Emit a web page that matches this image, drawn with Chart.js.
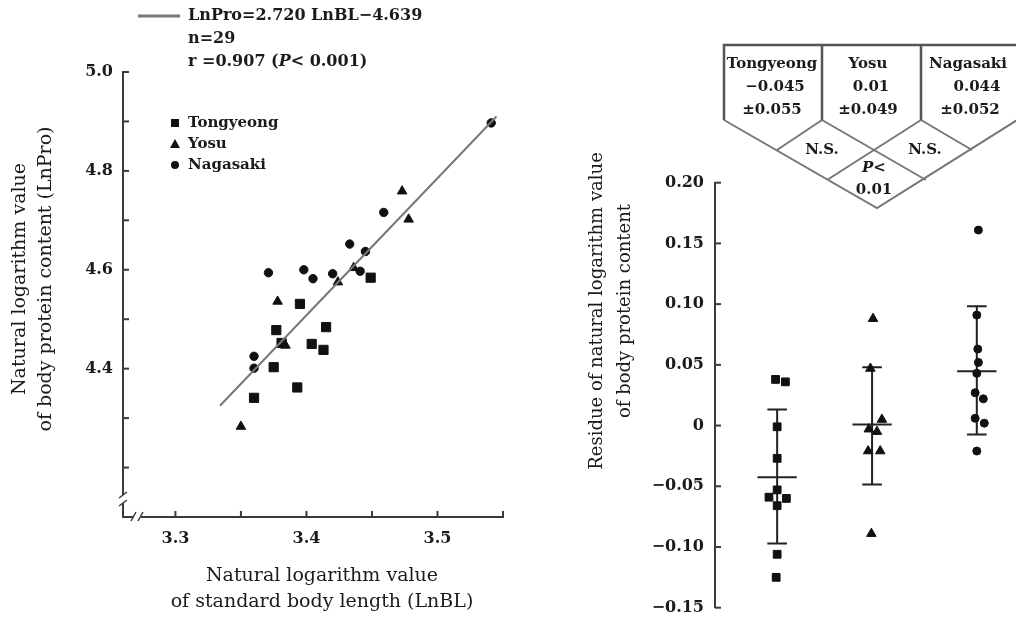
<!DOCTYPE html>
<html>
<head>
<meta charset="utf-8">
<script src="https://cdn.jsdelivr.net/npm/chart.js@4.4.1/dist/chart.umd.min.js"></script>
<style>
  html, body { margin: 0; padding: 0; background: #fff; }
  #wrap { position: relative; width: 1016px; height: 622px; overflow: hidden; background: #fff; }
  #left-chart { position: absolute; left: 0; top: 0; }
  #right-chart { position: absolute; left: 560px; top: 0; }
</style>
</head>
<body>
<div id="wrap">
  <canvas id="left-chart" width="560" height="622"></canvas>
  <canvas id="right-chart" width="456" height="640"></canvas>
</div>
<script>
// ---- left panel: LnPro vs LnBL ----
const tongyeongBL  = [3.449, 3.395, 3.377, 3.415, 3.381, 3.404, 3.413, 3.375, 3.393, 3.360];
const tongyeongPro = [4.584, 4.531, 4.478, 4.484, 4.452, 4.450, 4.438, 4.403, 4.362, 4.341];
const yosuBL  = [3.473, 3.478, 3.436, 3.424, 3.378, 3.384, 3.350];
const yosuPro = [4.759, 4.702, 4.604, 4.575, 4.536, 4.447, 4.283];
const nagasakiBL  = [3.541, 3.459, 3.433, 3.445, 3.371, 3.398, 3.405, 3.420, 3.441, 3.360, 3.360];
const nagasakiPro = [4.897, 4.716, 4.652, 4.637, 4.594, 4.600, 4.582, 4.592, 4.597, 4.425, 4.401];
const fitBL  = [3.334, 3.545];
const fitPro = [4.325, 4.910];

const xTicks = [3.3, 3.35, 3.4, 3.45, 3.5, 3.55];
const xTickLabels = ['3.3', '', '3.4', '', '3.5', ''];
const yTicks = [4.2, 4.3, 4.4, 4.5, 4.6, 4.7, 4.8, 4.9, 5.0];
const yTickLabels = ['', '', '4.4', '', '4.6', '', '4.8', '', '5.0'];

// ---- right panel: residues by locality ----
const tongyeongPos = [0.617, 0.717, 0.633, 0.633, 0.633, 0.55, 0.727, 0.633, 0.633, 0.623];
const tongyeongRes = [0.038, 0.036, -0.001, -0.027, -0.053, -0.059, -0.060, -0.066, -0.106, -0.125];
const yosuPos = [1.61, 1.583, 1.70, 1.567, 1.65, 1.56, 1.683, 1.593];
const yosuRes = [0.088, 0.047, 0.005, -0.003, -0.005, -0.021, -0.021, -0.089];
const nagasakiPos = [2.683, 2.667, 2.677, 2.683, 2.667, 2.65, 2.733, 2.65, 2.743, 2.667];
const nagasakiRes = [0.161, 0.091, 0.063, 0.052, 0.043, 0.027, 0.022, 0.006, 0.002, -0.021];

const groupPos   = [0.633, 1.60, 2.667];
const groupMean  = [-0.0426, 0.0008, 0.0447];
const groupUpper = [0.0132, 0.048, 0.0983];
const groupLower = [-0.0972, -0.0486, -0.0074];

const resTicks = [-0.15, -0.10, -0.05, 0, 0.05, 0.10, 0.15, 0.20];
const resTickLabels = ['\u22120.15', '\u22120.10', '\u22120.05', '0', '0.05', '0.10', '0.15', '0.20'];

const groupNames = ['Tongyeong', 'Yosu', 'Nagasaki'];
const groupMeanText = ['\u22120.045', '0.01', '0.044'];
const groupSdText = ['\u00b10.055', '\u00b10.049', '\u00b10.052'];

// ---- styles ----
const FONT = '"DejaVu Serif", "Liberation Serif", serif';
const INK = '#1b1b1b';
const AXIS = '#3a3a3a';
const MEAN_HALF = 0.2;
const CAP_HALF = 0.1;

Chart.defaults.font.family = FONT;
Chart.defaults.color = INK;

function pts(xs, ys) {
    return xs.map((x, i) => ({ x: x, y: ys[i] }));
}

function drawInnerTicks(chart, id, len) {
    const s = chart.scales[id];
    const ctx = chart.ctx;
    const area = chart.chartArea;
    ctx.save();
    ctx.strokeStyle = AXIS;
    ctx.lineWidth = 2;
    s.ticks.forEach(t => {
        const p = s.getPixelForValue(t.value);
        ctx.beginPath();
        if (s.axis === 'x') {
            ctx.moveTo(p, area.bottom);
            ctx.lineTo(p, area.bottom - len);
        } else {
            ctx.moveTo(area.left, p);
            ctx.lineTo(area.left + len, p);
        }
        ctx.stroke();
    });
    ctx.restore();
}

function drawRuns(ctx, runs, x, y) {
    runs.forEach(r => {
        ctx.font = r.font;
        ctx.fillText(r.text, x, y);
        x += ctx.measureText(r.text).width;
    });
}

function drawVertical(ctx, lines, x0, gap, y, font) {
    ctx.save();
    ctx.font = font;
    ctx.fillStyle = INK;
    ctx.textAlign = 'center';
    ctx.textBaseline = 'middle';
    lines.forEach((t, i) => {
        ctx.save();
        ctx.translate(x0 + i * gap, y);
        ctx.rotate(-Math.PI / 2);
        ctx.fillText(t, 0, 0);
        ctx.restore();
    });
    ctx.restore();
}

function marker(ctx, style, x, y) {
    ctx.beginPath();
    if (style === 'rect') {
        ctx.rect(x - 4, y - 4, 8, 8);
    } else if (style === 'triangle') {
        ctx.moveTo(x, y - 5);
        ctx.lineTo(x + 5, y + 4);
        ctx.lineTo(x - 5, y + 4);
        ctx.closePath();
    } else {
        ctx.arc(x, y, 4, 0, Math.PI * 2);
    }
    ctx.fill();
}

const leftDecor = {
    id: 'leftDecor',
    afterDraw(chart) {
        const ctx = chart.ctx;
        const area = chart.chartArea;
        drawInnerTicks(chart, 'x', 6);
        drawInnerTicks(chart, 'y', 6);

        // axis breaks
        ctx.save();
        ctx.fillStyle = '#fff';
        ctx.fillRect(area.left - 3, 495, 6, 8);
        ctx.fillRect(134, area.bottom - 3, 7, 6);
        ctx.strokeStyle = AXIS;
        ctx.lineWidth = 1.5;
        ctx.beginPath();
        ctx.moveTo(area.left - 4, 498); ctx.lineTo(area.left + 4, 492);
        ctx.moveTo(area.left - 4, 506); ctx.lineTo(area.left + 4, 500);
        ctx.moveTo(131, area.bottom + 4); ctx.lineTo(136, area.bottom - 5);
        ctx.moveTo(138, area.bottom + 4); ctx.lineTo(143, area.bottom - 5);
        ctx.stroke();
        ctx.restore();

        // regression legend
        ctx.save();
        ctx.strokeStyle = '#777';
        ctx.lineWidth = 3;
        ctx.beginPath();
        ctx.moveTo(138, 16); ctx.lineTo(180, 16);
        ctx.stroke();
        ctx.fillStyle = INK;
        ctx.textBaseline = 'middle';
        const bold = 'bold 16px ' + FONT;
        const ital = 'italic bold 16px ' + FONT;
        drawRuns(ctx, [{ text: 'LnPro=2.720 LnBL\u22124.639', font: bold }], 188, 16);
        drawRuns(ctx, [{ text: 'n=29', font: bold }], 188, 39);
        drawRuns(ctx, [{ text: 'r =0.907 (', font: bold }, { text: 'P', font: ital },
                       { text: '< 0.001)', font: bold }], 188, 62);

        // group legend
        const styles = ['rect', 'triangle', 'circle'];
        const ys = [123, 144, 165];
        groupNames.forEach((n, i) => {
            ctx.fillStyle = '#111';
            marker(ctx, styles[i], 175, ys[i]);
            ctx.fillStyle = INK;
            ctx.font = 'bold 15px ' + FONT;
            ctx.fillText(n, 188, ys[i]);
        });
        ctx.restore();

        // axis titles
        drawVertical(ctx, ['Natural logarithm value', 'of body protein content (LnPro)'],
                     20, 26, 279, '19px ' + FONT);
        ctx.save();
        ctx.font = '19px ' + FONT;
        ctx.fillStyle = INK;
        ctx.textAlign = 'center';
        ctx.textBaseline = 'middle';
        ctx.fillText('Natural logarithm value', 322, 576);
        ctx.fillText('of standard body length (LnBL)', 322, 602);
        ctx.restore();
    }
};

const OFF = 560; // right canvas offset in page pixels
const rightDecor = {
    id: 'rightDecor',
    afterDraw(chart) {
        const ctx = chart.ctx;
        drawInnerTicks(chart, 'y', 6);
        ctx.save();
        ctx.translate(-OFF, 0);

        // comparison table
        ctx.strokeStyle = '#555';
        ctx.lineWidth = 2.5;
        ctx.beginPath();
        ctx.moveTo(724, 120); ctx.lineTo(724, 45); ctx.lineTo(1020, 45);
        ctx.moveTo(822, 45); ctx.lineTo(822, 120);
        ctx.moveTo(921, 45); ctx.lineTo(921, 120);
        ctx.stroke();
        ctx.strokeStyle = '#777';
        ctx.lineWidth = 2;
        ctx.beginPath();
        ctx.moveTo(724, 120); ctx.lineTo(877, 208); ctx.lineTo(1030, 112);
        ctx.moveTo(822, 120); ctx.lineTo(777, 150);
        ctx.moveTo(822, 120); ctx.lineTo(926, 180);
        ctx.moveTo(921, 120); ctx.lineTo(827, 180);
        ctx.moveTo(921, 120); ctx.lineTo(972, 150);
        ctx.stroke();

        ctx.fillStyle = INK;
        ctx.textAlign = 'center';
        ctx.textBaseline = 'middle';
        ctx.font = 'bold 15px ' + FONT;
        const cx = [772, 868, 968];
        groupNames.forEach((n, i) => {
            ctx.fillText(n, cx[i], 64);
            ctx.fillText(groupMeanText[i], cx[i] + (i === 2 ? 9 : 3), 87);
            ctx.fillText(groupSdText[i], cx[i] + (i === 2 ? 2 : 0), 110);
        });
        ctx.fillText('N.S.', 822, 150);
        ctx.fillText('N.S.', 925, 150);
        ctx.fillText('0.01', 874, 190);
        ctx.textAlign = 'left';
        drawRuns(ctx, [{ text: 'P', font: 'italic bold 15px ' + FONT },
                       { text: '<', font: 'bold 15px ' + FONT }], 862, 168);
        ctx.restore();

        drawVertical(ctx, ['Residue of natural logarithm value', 'of body protein content'],
                     597 - OFF, 28, 311, '18px ' + FONT);
    }
};

const tickFont = { family: FONT, size: 16, weight: 'bold' };

new Chart(document.getElementById('left-chart'), {
    type: 'scatter',
    data: {
        datasets: [
            { label: 'fit', data: pts(fitBL, fitPro), showLine: true, borderColor: '#777',
              borderWidth: 2, pointRadius: 0 },
            { label: 'Tongyeong', data: pts(tongyeongBL, tongyeongPro), pointStyle: 'rect',
              pointRadius: 6.5, backgroundColor: '#111', borderColor: '#111', borderWidth: 1 },
            { label: 'Yosu', data: pts(yosuBL, yosuPro), pointStyle: 'triangle',
              pointRadius: 5.5, backgroundColor: '#111', borderColor: '#111', borderWidth: 1 },
            { label: 'Nagasaki', data: pts(nagasakiBL, nagasakiPro), pointStyle: 'circle',
              pointRadius: 4.2, backgroundColor: '#111', borderColor: '#111', borderWidth: 1 }
        ]
    },
    options: {
        responsive: false,
        animation: false,
        devicePixelRatio: 1,
        layout: { padding: { left: 0, top: 72, right: 57, bottom: 0 } },
        plugins: { legend: { display: false }, tooltip: { enabled: false } },
        scales: {
            x: {
                type: 'linear', min: 3.26, max: 3.55,
                afterFit: s => { s.height = 105; },
                afterBuildTicks: s => { s.ticks = xTicks.map(v => ({ value: v })); },
                grid: { drawOnChartArea: false, drawTicks: false },
                border: { color: AXIS, width: 2 },
                ticks: { padding: 12, autoSkip: false, maxRotation: 0, font: tickFont, color: INK,
                         callback: (v, i) => xTickLabels[i] }
            },
            y: {
                type: 'linear', min: 4.1, max: 5.0,
                afterFit: s => { s.width = 123; },
                afterBuildTicks: s => { s.ticks = yTicks.map(v => ({ value: v })); },
                grid: { drawOnChartArea: false, drawTicks: false },
                border: { color: AXIS, width: 2 },
                ticks: { padding: 10, autoSkip: false, font: tickFont, color: INK,
                         callback: (v, i) => yTickLabels[i] }
            }
        }
    },
    plugins: [leftDecor]
});

const resDatasets = [
    { label: 'Tongyeong', data: pts(tongyeongPos, tongyeongRes), pointStyle: 'rect',
      pointRadius: 5.5, backgroundColor: '#111', borderColor: '#111', borderWidth: 1 },
    { label: 'Yosu', data: pts(yosuPos, yosuRes), pointStyle: 'triangle',
      pointRadius: 5.5, backgroundColor: '#111', borderColor: '#111', borderWidth: 1 },
    { label: 'Nagasaki', data: pts(nagasakiPos, nagasakiRes), pointStyle: 'circle',
      pointRadius: 4, backgroundColor: '#111', borderColor: '#111', borderWidth: 1 }
];
groupPos.forEach((g, i) => {
    const seg = (a, b) => ({ data: a, showLine: true, pointRadius: 0, borderColor: '#222',
                             borderWidth: b });
    resDatasets.push(seg([{ x: g, y: groupLower[i] }, { x: g, y: groupUpper[i] }], 2));
    resDatasets.push(seg([{ x: g - CAP_HALF, y: groupUpper[i] }, { x: g + CAP_HALF, y: groupUpper[i] }], 2));
    resDatasets.push(seg([{ x: g - CAP_HALF, y: groupLower[i] }, { x: g + CAP_HALF, y: groupLower[i] }], 2));
    resDatasets.push(seg([{ x: g - MEAN_HALF, y: groupMean[i] }, { x: g + MEAN_HALF, y: groupMean[i] }], 2));
});

new Chart(document.getElementById('right-chart'), {
    type: 'scatter',
    data: { datasets: resDatasets },
    options: {
        responsive: false,
        animation: false,
        devicePixelRatio: 1,
        layout: { padding: { left: 0, top: 182.7, right: 1, bottom: 32.3 } },
        plugins: { legend: { display: false }, tooltip: { enabled: false } },
        scales: {
            x: { type: 'linear', min: 0, max: 3, display: false },
            y: {
                type: 'linear', min: -0.15, max: 0.20,
                afterFit: s => { s.width = 155; },
                afterBuildTicks: s => { s.ticks = resTicks.map(v => ({ value: v })); },
                grid: { drawOnChartArea: false, drawTicks: false },
                border: { color: AXIS, width: 2 },
                ticks: { padding: 11, autoSkip: false, font: tickFont, color: INK,
                         callback: (v, i) => resTickLabels[i] }
            }
        }
    },
    plugins: [rightDecor]
});
</script>
</body>
</html>
